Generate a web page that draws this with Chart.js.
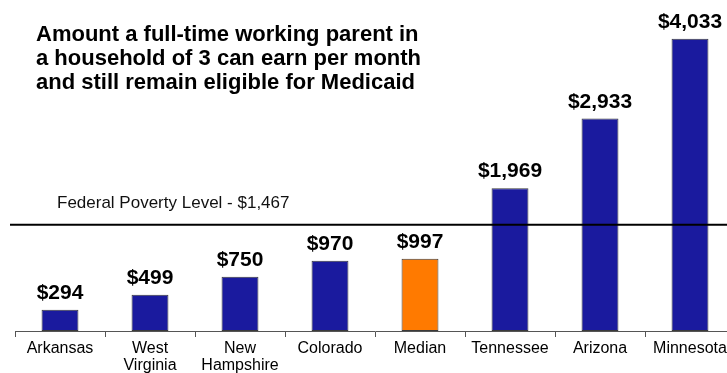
<!DOCTYPE html>
<html>
<head>
<meta charset="utf-8">
<script src="https://cdn.jsdelivr.net/npm/chart.js@4.4.1/dist/chart.umd.min.js"></script>
<style>
  html, body { margin: 0; padding: 0; background: #fff; overflow: hidden; }
  #wrap { position: relative; width: 727px; height: 373px; overflow: hidden; }
  canvas { position: absolute; left: 0; top: 0; }
</style>
</head>
<body>
<div id="wrap"><canvas id="medicaidChart" width="740" height="373"></canvas></div>
<script>
// Monthly earnings limit for Medicaid eligibility, family of 3
const states = ["Arkansas", ["West", "Virginia"], ["New", "Hampshire"], "Colorado", "Median", "Tennessee", "Arizona", "Minnesota"];
const earnings = [294, 499, 750, 970, 997, 1969, 2933, 4033];
const barColors = ["#1a1a9e", "#1a1a9e", "#1a1a9e", "#1a1a9e", "#ff7a00", "#1a1a9e", "#1a1a9e", "#1a1a9e"];
const povertyLevel = 1467;
const titleLines = [
    "Amount a full-time working parent in",
    "a household of 3 can earn per month",
    "and still remain eligible for Medicaid"
];

const fmt = v => "$" + v.toLocaleString("en-US");
const FONT = "'Liberation Sans', Arial, sans-serif";

// value labels above each bar
const valueLabels = {
    id: "valueLabels",
    afterDatasetsDraw(chart) {
        const ctx = chart.ctx;
        const meta = chart.getDatasetMeta(0);
        ctx.save();
        ctx.font = "bold 21px " + FONT;
        ctx.fillStyle = "#000";
        ctx.textAlign = "center";
        ctx.textBaseline = "alphabetic";
        meta.data.forEach((bar, i) => {
            ctx.fillText(fmt(earnings[i]), bar.x, bar.y - 11);
        });
        ctx.restore();
    }
};

// poverty threshold line + caption, and the title block
const overlay = {
    id: "overlay",
    afterDraw(chart) {
        const ctx = chart.ctx;
        const y = chart.scales.y.getPixelForValue(povertyLevel);
        ctx.save();
        ctx.strokeStyle = "#000";
        ctx.lineWidth = 2;
        ctx.beginPath();
        ctx.moveTo(10, y);
        ctx.lineTo(chart.width, y);
        ctx.stroke();

        ctx.font = "17px " + FONT;
        ctx.fillStyle = "#111";
        ctx.textAlign = "left";
        ctx.textBaseline = "middle";
        ctx.fillText("Federal Poverty Level - " + fmt(povertyLevel), 57, y - 21);

        ctx.font = "bold 22px " + FONT;
        ctx.fillStyle = "#000";
        titleLines.forEach((line, i) => {
            ctx.fillText(line, 36, 35 + i * 24);
        });
        ctx.restore();
    }
};

new Chart(document.getElementById("medicaidChart"), {
    type: "bar",
    data: {
        labels: states,
        datasets: [{
            data: earnings,
            backgroundColor: barColors,
            borderColor: "#3a3a3a",
            borderWidth: 1,
            borderSkipped: false,
            barPercentage: 0.41,
            categoryPercentage: 1.0
        }]
    },
    options: {
        responsive: false,
        animation: false,
        layout: { padding: { left: 15, right: 5, top: 5, bottom: 0 } },
        plugins: {
            legend: { display: false },
            title: { display: false },
            tooltip: { enabled: false }
        },
        scales: {
            x: {
                grid: {
                    display: true,
                    drawOnChartArea: false,
                    drawTicks: true,
                    tickLength: 6,
                    color: "#555"
                },
                border: { display: true, color: "#555", width: 1 },
                ticks: {
                    color: "#000",
                    font: { family: FONT, size: 16, lineHeight: 1.06 },
                    padding: 3,
                    maxRotation: 0,
                    autoSkip: false
                },
                afterFit(scale) { scale.height = 42; }
            },
            y: {
                display: false,
                min: 0,
                max: 4500
            }
        }
    },
    plugins: [valueLabels, overlay]
});
</script>
</body>
</html>
